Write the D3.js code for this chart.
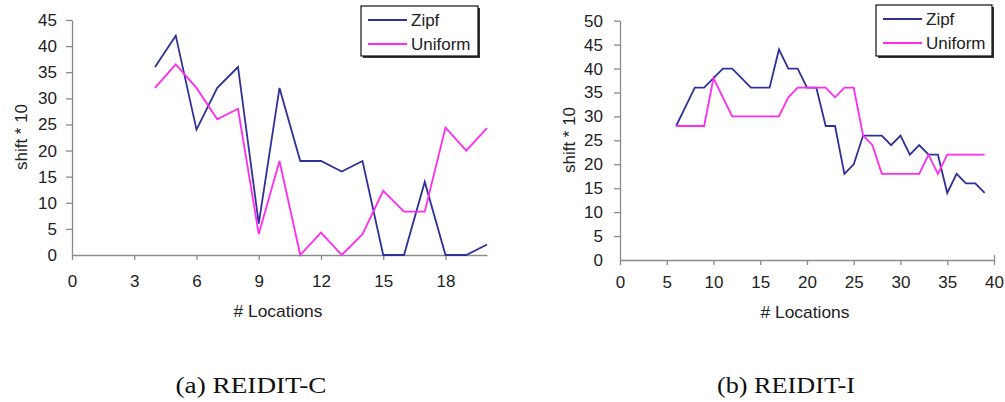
<!DOCTYPE html>
<html><head><meta charset="utf-8">
<script src="https://cdn.jsdelivr.net/npm/d3@7"></script>
<style>
body{margin:0;background:#fff;}
svg{display:block;}
.tick text{font-family:"Liberation Sans",Arial,sans-serif;font-size:17px;fill:#222;}
</style></head>
<body><svg id="c" width="1005" height="402"></svg>
<script>
// Left chart (a) REIDIT-C
const xA = [4,5,6,7,8,9,10,11,12,13,14,15,16,17,18,19,20];
const zipfA = [36,42,24,32,36,6,32,18,18,16,18,0,0,14,0,0,2];
const unifA = [32,36.5,32,26,28,4,18,0,4.3,0,4,12.3,8.3,8.3,24.4,20,24.3];
const xTicksA = [0,3,6,9,12,15,18];
const yTicksA = [0,5,10,15,20,25,30,35,40,45];

// Right chart (b) REIDIT-I
const xB = [6,7,8,9,10,11,12,13,14,15,16,17,18,19,20,21,22,23,24,25,26,27,28,29,30,31,32,33,34,35,36,37,38,39];
const zipfB = [28,32,36,36,38,40,40,38,36,36,36,44,40,40,36,36,28,28,18,20,26,26,26,24,26,22,24,22,22,14,18,16,16,14];
const unifB = [28,28,28,28,38,34,30,30,30,30,30,30,34,36,36,36,36,34,36,36,26,24,18,18,18,18,18,22,18,22,22,22,22,22];
const xTicksB = [0,5,10,15,20,25,30,35,40];
const yTicksB = [0,5,10,15,20,25,30,35,40,45,50];

const seriesNames = ["Zipf","Uniform"];
const colors = {Zipf:"#30309a", Uniform:"#ff2bf2"};

const svg = d3.select("#c");
const FONT = '"Liberation Sans",Arial,sans-serif';

function chart(cfg){
  const g = svg.append("g");
  const x = d3.scaleLinear().domain(cfg.xDomain).range([cfg.left, cfg.right]);
  const y = d3.scaleLinear().domain(cfg.yDomain).range([cfg.bottom, cfg.top]);
  const xa = g.append("g").attr("transform",`translate(0,${cfg.bottom})`)
    .call(d3.axisBottom(x).tickValues(cfg.xTicks).tickSize(5).tickPadding(cfg.xPad).tickSizeOuter(0));
  const ya = g.append("g").attr("transform",`translate(${cfg.left},0)`)
    .call(d3.axisLeft(y).tickValues(cfg.yTicks).tickSize(6).tickPadding(cfg.yPad).tickSizeOuter(0));
  [xa,ya].forEach(a=>{
    a.select(".domain").attr("stroke","#8a8a8a").attr("stroke-width",1.3);
    a.selectAll(".tick line").attr("stroke","#8a8a8a").attr("stroke-width",1.3);
  });
  xa.selectAll(".tick").filter(d=>d===cfg.xDomain[1]).select("line").attr("y1",-5);
  ya.selectAll(".tick").filter(d=>d===0).select("line").attr("x2",0);
  // axis titles
  g.append("text").attr("x",cfg.xTitleX).attr("y",cfg.xTitleY)
    .attr("text-anchor","middle").attr("font-family",FONT).attr("font-size",17).attr("fill","#222")
    .attr("textLength",89).attr("lengthAdjust","spacingAndGlyphs")
    .text("# Locations");
  g.append("text").attr("transform",`translate(${cfg.yTitleX},${cfg.yTitleY}) rotate(-90)`)
    .attr("text-anchor","middle").attr("font-family",FONT).attr("font-size",17).attr("fill","#222")
    .text("shift * 10");
  // lines
  const line = d3.line().x(d=>x(d[0])).y(d=>y(d[1]));
  cfg.series.forEach(s=>{
    g.append("path").datum(cfg.xs.map((v,i)=>[v,s.values[i]]))
      .attr("fill","none").attr("stroke",colors[s.name]).attr("stroke-width",1.8)
      .attr("stroke-linejoin","miter").attr("d",line);
  });
  // legend
  const L = cfg.legend;
  g.append("rect").attr("x",L.x+2).attr("y",L.y+2).attr("width",L.w).attr("height",L.h).attr("fill","#333");
  g.append("rect").attr("x",L.x).attr("y",L.y).attr("width",L.w).attr("height",L.h)
    .attr("fill","#fff").attr("stroke","#111").attr("stroke-width",1.2);
  seriesNames.forEach((n,i)=>{
    const yy = L.y + 14 + i*24;
    g.append("line").attr("x1",L.x+7).attr("x2",L.x+46).attr("y1",yy).attr("y2",yy)
      .attr("stroke",colors[n]).attr("stroke-width",1.8);
    g.append("text").attr("x",L.x+50).attr("y",yy+6).attr("font-family",FONT)
      .attr("font-size",17).attr("fill","#222").text(n);
  });
  // caption
  g.append("text").attr("x",cfg.capX).attr("y",393).attr("text-anchor","middle")
    .attr("font-family",'"Liberation Serif","Times New Roman",serif').attr("font-size",23)
    .attr("fill","#111").attr("textLength",cfg.capW).attr("lengthAdjust","spacingAndGlyphs")
    .text(cfg.caption);
}

chart({xDomain:[0,20], yDomain:[0,45], left:72, right:487, top:20, bottom:255,
  xTicks:xTicksA, yTicks:yTicksA, xs:xA, xPad:15, yPad:9,
  series:[{name:"Zipf",values:zipfA},{name:"Uniform",values:unifA}],
  xTitleX:278, xTitleY:317, yTitleX:26.5, yTitleY:137,
  legend:{x:361,y:6,w:117,h:50}, caption:"(a) REIDIT-C", capX:251, capW:151});

chart({xDomain:[0,40], yDomain:[0,50], left:620, right:994, top:20.7, bottom:260,
  xTicks:xTicksB, yTicks:yTicksB, xs:xB, xPad:11, yPad:11,
  series:[{name:"Zipf",values:zipfB},{name:"Uniform",values:unifB}],
  xTitleX:805, xTitleY:318, yTitleX:575, yTitleY:140,
  legend:{x:876,y:5,w:116,h:51}, caption:"(b) REIDIT-I", capX:786, capW:138});
</script></body></html>
